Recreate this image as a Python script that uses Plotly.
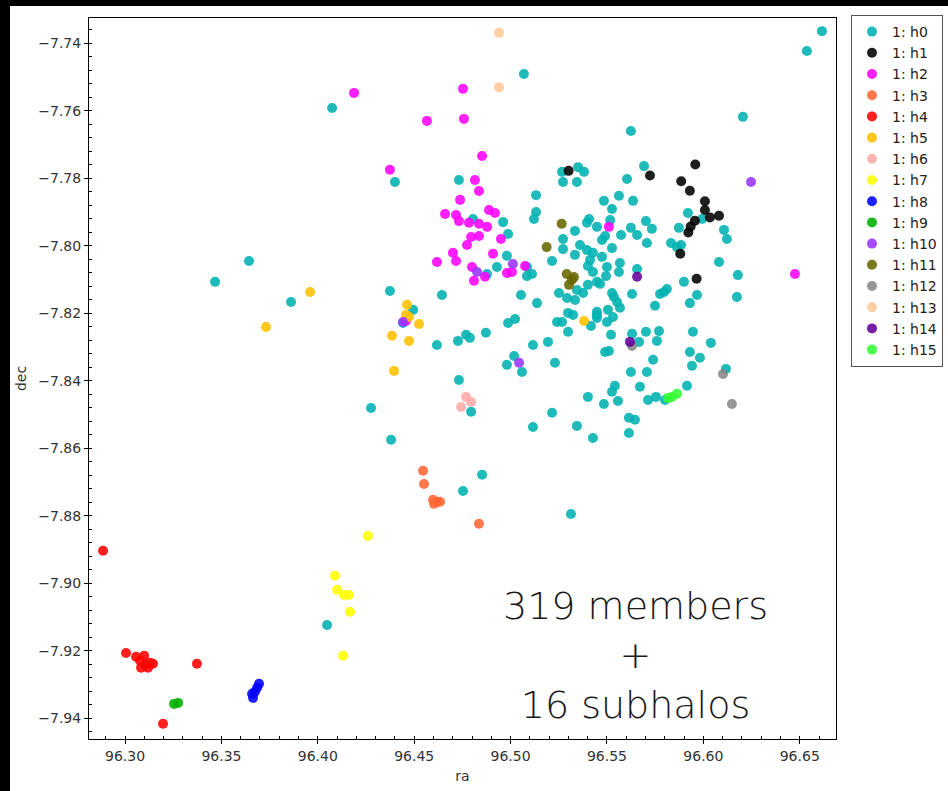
import plotly.graph_objects as go

# ---- data (ra, dec) per subhalo group ----
h0_ra = [96.6615, 96.6537, 96.6205, 96.5069, 96.4074, 96.5624, 96.3467, 96.3643, 96.3861, 96.4276,
         96.4380, 96.4374, 96.4048, 96.4753, 96.4852, 96.4400, 96.4494, 96.4442, 96.4618, 96.4727,
         96.4769, 96.4789, 96.4872, 96.4732, 96.4987, 96.5023, 96.5137, 96.5241, 96.5267, 96.5298,
         96.5324, 96.5298, 96.5417, 96.5448, 96.5116, 96.5194, 96.5018, 96.4981, 96.5059, 96.5230,
         96.5401, 96.5215, 96.5116, 96.5344, 96.5427, 96.4795, 96.5313, 96.4644, 96.4732, 96.5132,
         96.5132, 96.5121, 96.4961, 96.4987, 96.4805, 96.4981, 96.4929, 96.4878, 96.5085, 96.5111,
         96.5215, 96.5272, 96.5272, 96.5334, 96.5054, 96.5251, 96.5350, 96.5267, 96.5272, 96.5344,
         96.5381, 96.5692, 96.5604, 96.5562, 96.5484, 96.5635, 96.5526, 96.5407, 96.5396, 96.5448,
         96.5516, 96.5702, 96.5733, 96.5624, 96.5656, 96.5573, 96.5474, 96.5490, 96.5707, 96.5526,
         96.5360, 96.5396, 96.5427, 96.5474, 96.5334, 96.5500, 96.5401, 96.5427, 96.5567, 96.5562,
         96.5656, 96.5495, 96.5448, 96.5401, 96.5464, 96.5376, 96.5344, 96.5293, 96.5334, 96.5526,
         96.5536, 96.5552, 96.5630, 96.5567, 96.5505, 96.5448, 96.5448, 96.5500, 96.5531, 96.5749,
         96.5775, 96.5796, 96.5811, 96.5899, 96.5967, 96.5930, 96.5832, 96.5863, 96.5884, 96.5873,
         96.5920, 96.5993, 96.6107, 96.6122, 96.6081, 96.6179, 96.6174, 96.5085, 96.5412, 96.5946,
         96.6039, 96.5930, 96.5982, 96.5941, 96.6117, 96.5915, 96.5702, 96.5770, 96.5759, 96.5630,
         96.5666, 96.5739, 96.5624, 96.5707, 96.5671, 96.5541, 96.5526, 96.5484, 96.5557, 96.5713,
         96.5754, 96.5801, 96.5614, 96.5645, 96.5614, 96.5490, 96.5510, 96.5521]
h0_dec = [-7.7364, -7.7423, -7.7618, -7.7491, -7.7592, -7.7660, -7.8107, -7.8045, -7.8167, -7.8481,
          -7.8575, -7.8134, -7.9124, -7.8727, -7.8679, -7.7811, -7.8190, -7.8229, -7.8294, -7.8282,
          -7.8264, -7.8273, -7.8258, -7.8398, -7.8229, -7.8217, -7.8170, -7.8226, -7.8226, -7.8199,
          -7.8205, -7.8255, -7.8238, -7.8205, -7.8294, -7.8285, -7.8327, -7.8353, -7.8374, -7.8347,
          -7.8448, -7.8495, -7.8537, -7.8534, -7.8570, -7.8492, -7.8795, -7.8146, -7.7805, -7.7850,
          -7.7900, -7.7921, -7.7930, -7.7965, -7.7921, -7.8030, -7.8063, -7.8084, -7.8090, -7.8084,
          -7.8045, -7.7980, -7.8010, -7.7956, -7.8146, -7.8140, -7.7767, -7.7781, -7.7811, -7.7811,
          -7.7781, -7.7764, -7.7802, -7.7852, -7.7867, -7.7867, -7.7891, -7.7921, -7.7932, -7.7944,
          -7.7924, -7.7927, -7.7950, -7.7947, -7.7968, -7.7968, -7.7983, -7.7971, -7.7992, -7.8007,
          -7.7998, -7.8013, -7.8021, -7.8033, -7.8027, -7.8063, -7.8060, -7.8078, -7.8051, -7.8078,
          -7.8069, -7.8090, -7.8107, -7.8116, -7.8113, -7.8140, -7.8131, -7.8155, -7.8161, -7.8140,
          -7.8152, -7.8167, -7.8143, -7.8184, -7.8190, -7.8196, -7.8214, -7.8226, -7.8211, -7.8178,
          -7.8143, -7.8137, -7.8128, -7.8107, -7.8146, -7.8170, -7.7992, -7.8004, -7.7998, -7.7947,
          -7.7903, -7.7921, -7.7953, -7.7980, -7.8048, -7.8087, -7.8152, -7.8063, -7.8042, -7.8255,
          -7.8288, -7.8315, -7.8332, -7.8356, -7.8365, -7.8415, -7.8255, -7.8253, -7.8282, -7.8261,
          -7.8285, -7.8338, -7.8374, -7.8374, -7.8418, -7.8415, -7.8433, -7.8469, -7.8460, -7.8457,
          -7.8448, -7.8457, -7.8510, -7.8516, -7.8555, -7.8315, -7.8312, -7.8264]

h1_ra = [96.5301, 96.5723, 96.5958, 96.5885, 96.5930, 96.6008, 96.6008, 96.6034, 96.6081, 96.5956,
         96.5934, 96.5922, 96.5880, 96.5965]
h1_dec = [-7.7778, -7.7792, -7.7759, -7.7809, -7.7837, -7.7868, -7.7894, -7.7916, -7.7911, -7.7926,
          -7.7943, -7.7961, -7.8024, -7.8098]

h2_ra = [96.4188, 96.4566, 96.4753, 96.4758, 96.4852, 96.4374, 96.4815, 96.4836, 96.4738, 96.4660,
         96.4717, 96.4732, 96.4784, 96.4836, 96.4878, 96.4888, 96.4919, 96.4795, 96.4836, 96.4774,
         96.4701, 96.4717, 96.4618, 96.4909, 96.4950, 96.4800, 96.4867, 96.4810, 96.4981, 96.5007,
         96.5075, 96.5510, 96.6475, 96.4457]
h2_dec = [-7.7547, -7.7630, -7.7535, -7.7624, -7.7734, -7.7775, -7.7805, -7.7838, -7.7864, -7.7906,
          -7.7909, -7.7927, -7.7932, -7.7935, -7.7944, -7.7894, -7.7903, -7.7974, -7.7971, -7.7998,
          -7.8021, -7.8045, -7.8048, -7.8024, -7.7980, -7.8063, -7.8092, -7.8104, -7.8081, -7.8078,
          -7.8060, -7.7944, -7.8084, -7.8223]

h3_ra = [96.4546, 96.4551, 96.4598, 96.4618, 96.4603, 96.4634, 96.4836]
h3_dec = [-7.8667, -7.8706, -7.8753, -7.8759, -7.8765, -7.8759, -7.8824]

h4_ra = [96.2886, 96.3005, 96.3057, 96.3078, 96.3099, 96.3104, 96.3119, 96.3130, 96.3145, 96.3083,
         96.3373, 96.3197]
h4_dec = [-7.8904, -7.9207, -7.9218, -7.9230, -7.9215, -7.9242, -7.9251, -7.9236, -7.9239, -7.9251,
          -7.9239, -7.9417]

h5_ra = [96.3960, 96.3731, 96.4463, 96.4457, 96.4473, 96.4525, 96.4385, 96.4473, 96.4395, 96.5381]
h5_dec = [-7.8137, -7.8241, -7.8175, -7.8205, -7.8211, -7.8232, -7.8267, -7.8282, -7.8371, -7.8223]

h6_ra = [96.4769, 96.4795, 96.4743]
h6_dec = [-7.8448, -7.8463, -7.8478]

h7_ra = [96.4260, 96.4089, 96.4100, 96.4136, 96.4162, 96.4167, 96.4131]
h7_dec = [-7.8860, -7.8978, -7.9020, -7.9035, -7.9035, -7.9085, -7.9215]

h8_ra = [96.3664, 96.3674, 96.3685, 96.3695, 96.3659]
h8_dec = [-7.9340, -7.9322, -7.9310, -7.9298, -7.9328]

h9_ra = [96.3254, 96.3275]
h9_dec = [-7.9358, -7.9355]

h10_ra = [96.6247, 96.4826, 96.5012, 96.5044, 96.4442]
h10_dec = [-7.7811, -7.8078, -7.8054, -7.8347, -7.8226]

h11_ra = [96.5265, 96.5187, 96.5291, 96.5329, 96.5303, 96.5318]
h11_dec = [-7.7935, -7.8004, -7.8084, -7.8093, -7.8116, -7.8101]

h12_ra = [96.5630, 96.6102, 96.6148]
h12_dec = [-7.8297, -7.8380, -7.8469]

h13_ra = [96.4940, 96.4940]
h13_dec = [-7.7369, -7.7530]

h14_ra = [96.5656, 96.5619]
h14_dec = [-7.8092, -7.8285]

h15_ra = [96.5816, 96.5863, 96.5837]
h15_dec = [-7.8451, -7.8439, -7.8448]

group_names = ["1: h0", "1: h1", "1: h2", "1: h3", "1: h4", "1: h5", "1: h6", "1: h7",
               "1: h8", "1: h9", "1: h10", "1: h11", "1: h12", "1: h13", "1: h14", "1: h15"]
group_colors = ["#00b2b2", "#000000", "#ff00ff", "#ff6633", "#ff0000", "#ffc000", "#ffaaaa", "#ffff00",
                "#0000ff", "#00b000", "#9933ff", "#666600", "#888888", "#ffc896", "#660099", "#33ff33"]
group_ra = [h0_ra, h1_ra, h2_ra, h3_ra, h4_ra, h5_ra, h6_ra, h7_ra,
            h8_ra, h9_ra, h10_ra, h11_ra, h12_ra, h13_ra, h14_ra, h15_ra]
group_dec = [h0_dec, h1_dec, h2_dec, h3_dec, h4_dec, h5_dec, h6_dec, h7_dec,
             h8_dec, h9_dec, h10_dec, h11_dec, h12_dec, h13_dec, h14_dec, h15_dec]

annotation_text = "319 members<br>+<br>16 subhalos"

fig = go.Figure()
for name, col, xs, ys in zip(group_names, group_colors, group_ra, group_dec):
    fig.add_trace(go.Scatter(
        x=xs, y=ys, mode="markers", name=name,
        marker=dict(color=col, size=10, opacity=0.88, line=dict(width=0)),
    ))

W, H = 948, 791
L, R, T, B = 89, 112, 18, 52
pw, ph = W - L - R, H - T - B

def px_x(p):
    return (p - L) / pw

def px_y(p):
    return (H - B - p) / ph

# white panel over black backdrop
fig.add_shape(type="rect", xref="paper", yref="paper",
              x0=px_x(10), x1=px_x(W + 5), y0=px_y(H + 5), y1=px_y(6),
              fillcolor="white", line=dict(width=0), layer="below")

fig.add_annotation(text=annotation_text, xref="paper", yref="paper", x=px_x(635), y=px_y(655),
                   xanchor="center", yanchor="middle", showarrow=False, align="center",
                   font=dict(family="DejaVu Sans", size=38, color="#1a1a1a", weight=200))

axis_font = dict(family="DejaVu Sans", size=14, color="#333333")
common = dict(showline=True, linecolor="black", linewidth=1, mirror=True,
              ticks="outside", ticklen=4, tickcolor="black", tickwidth=1,
              showgrid=False, zeroline=False, tickfont=axis_font)

fig.update_xaxes(range=[96.2813, 96.6688], dtick=0.05, tick0=96.30, tickformat=".2f",
                 title=dict(text="ra", font=dict(family="DejaVu Sans", size=14, color="#333333"), standoff=8),
                 minor=dict(dtick=0.01, ticks="inside", ticklen=3, tickcolor="black"), **common)
fig.update_yaxes(range=[-7.9462, -7.7325], dtick=0.02, tick0=-7.74, tickformat=".2f",
                 title=dict(text="dec", font=dict(family="DejaVu Sans", size=14, color="#333333"), standoff=8),
                 minor=dict(dtick=0.004, ticks="inside", ticklen=3, tickcolor="black"), **common)

fig.update_layout(
    width=W, height=H,
    margin=dict(l=L, r=R, t=T, b=B, autoexpand=False),
    paper_bgcolor="black", plot_bgcolor="white",
    showlegend=True,
    legend=dict(x=px_x(851), y=px_y(15), xanchor="left", yanchor="top",
                bgcolor="white", bordercolor="#555555", borderwidth=1,
                font=dict(family="DejaVu Sans", size=14, color="#222222"),
                itemwidth=30),
)

fig.write_html(
    "out.html",
    config={"displayModeBar": False},
    post_script="document.body.style.margin='0';document.body.style.background='black';"
                "document.body.style.overflow='hidden';",
)
